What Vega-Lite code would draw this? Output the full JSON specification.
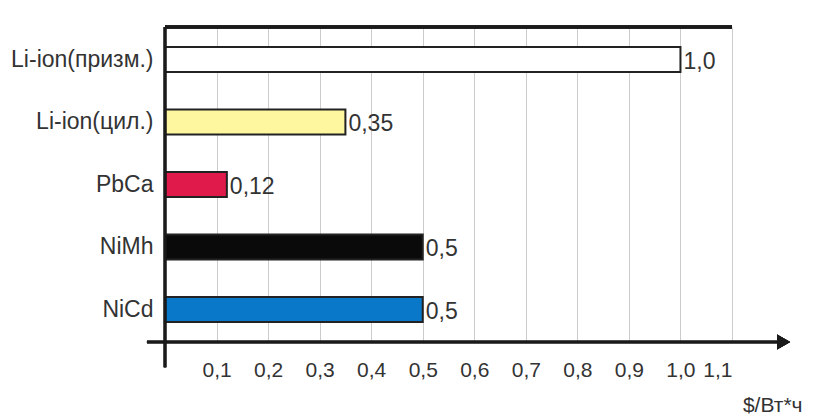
{
  "$schema": "https://vega.github.io/schema/vega-lite/v6.json",
  "width": 567,
  "height": 315,
  "autosize": {"type": "none"},
  "padding": {"left": 165, "top": 27, "right": 102, "bottom": 78},
  "background": "white",
  "config": {"view": {"stroke": null}, "font": "Liberation Sans"},
  "data": {
    "values": [
      {"battery": "Li-ion(призм.)", "cost": 1.0, "label": "1,0"},
      {"battery": "Li-ion(цил.)", "cost": 0.35, "label": "0,35"},
      {"battery": "PbCa", "cost": 0.12, "label": "0,12"},
      {"battery": "NiMh", "cost": 0.5, "label": "0,5"},
      {"battery": "NiCd", "cost": 0.5, "label": "0,5"}
    ]
  },
  "layer": [
    {
      "encoding": {
        "y": {
          "field": "battery", "type": "nominal", "sort": null,
          "scale": {"paddingInner": 0.6, "paddingOuter": 0.32},
          "axis": {"title": null, "domain": false, "ticks": false, "labelFontSize": 23, "labelColor": "#333333", "labelPadding": 12}
        },
        "x": {
          "field": "cost", "type": "quantitative",
          "scale": {"domain": [0, 1.1], "nice": false},
          "axis": {
            "values": [0.1, 0.2, 0.3, 0.4, 0.5, 0.6, 0.7, 0.8, 0.9, 1.0, 1.1],
            "grid": true, "gridColor": "#cccccc", "gridWidth": 1,
            "domain": false, "ticks": false,
            "labelExpr": "replace(format(datum.value, '.1f'), '.', ',')",
            "labelFontSize": 21, "labelColor": "#333333", "labelPadding": 17,
            "title": "$/Вт*ч", "titleFontSize": 21, "titleFontWeight": "normal", "titleColor": "#333333",
            "titleAnchor": null, "titleAlign": "right", "titleBaseline": "alphabetic", "titleX": 637, "titleY": 69
          }
        }
      },
      "layer": [
        {
          "mark": {"type": "bar", "stroke": "#222222", "strokeWidth": 2},
          "encoding": {
            "fill": {
              "field": "battery", "type": "nominal",
              "scale": {"domain": ["Li-ion(призм.)", "Li-ion(цил.)", "PbCa", "NiMh", "NiCd"], "range": ["#ffffff", "#fff6a0", "#e01a4a", "#0a0a0a", "#0a78c8"]},
              "legend": null
            }
          }
        },
        {
          "mark": {"type": "text", "align": "left", "baseline": "middle", "dx": 3, "dy": 2, "fontSize": 23, "color": "#333333"},
          "encoding": {
            "text": {"field": "label"}
          }
        }
      ]
    },
    {
      "layer": [
        {
          "mark": {"type": "rule", "color": "#1a1a1a", "strokeWidth": 2.5},
          "encoding": {
            "x": {"datum": -0.035},
            "x2": {"datum": 1.2},
            "y": {"datum": 0, "type": "quantitative", "scale": {"domain": [0, 1]}, "axis": null}
          }
        },
        {
          "mark": {"type": "rule", "color": "#1a1a1a", "strokeWidth": 3},
          "encoding": {
            "x": {"datum": 0},
            "x2": {"datum": 1.1},
            "y": {"datum": 1, "type": "quantitative", "scale": {"domain": [0, 1]}, "axis": null}
          }
        },
        {
          "mark": {"type": "rule", "color": "#1a1a1a", "strokeWidth": 2.5},
          "encoding": {
            "x": {"datum": 0},
            "y": {"datum": -0.08, "type": "quantitative", "scale": {"domain": [0, 1]}, "axis": null},
            "y2": {"datum": 1}
          }
        },
        {
          "mark": {"type": "point", "shape": "triangle-right", "filled": true, "color": "#1a1a1a", "size": 230, "opacity": 1},
          "encoding": {
            "x": {"datum": 1.2},
            "y": {"datum": 0, "type": "quantitative", "scale": {"domain": [0, 1]}, "axis": null}
          }
        }
      ]
    }
  ],
  "resolve": {"scale": {"y": "independent"}}
}
